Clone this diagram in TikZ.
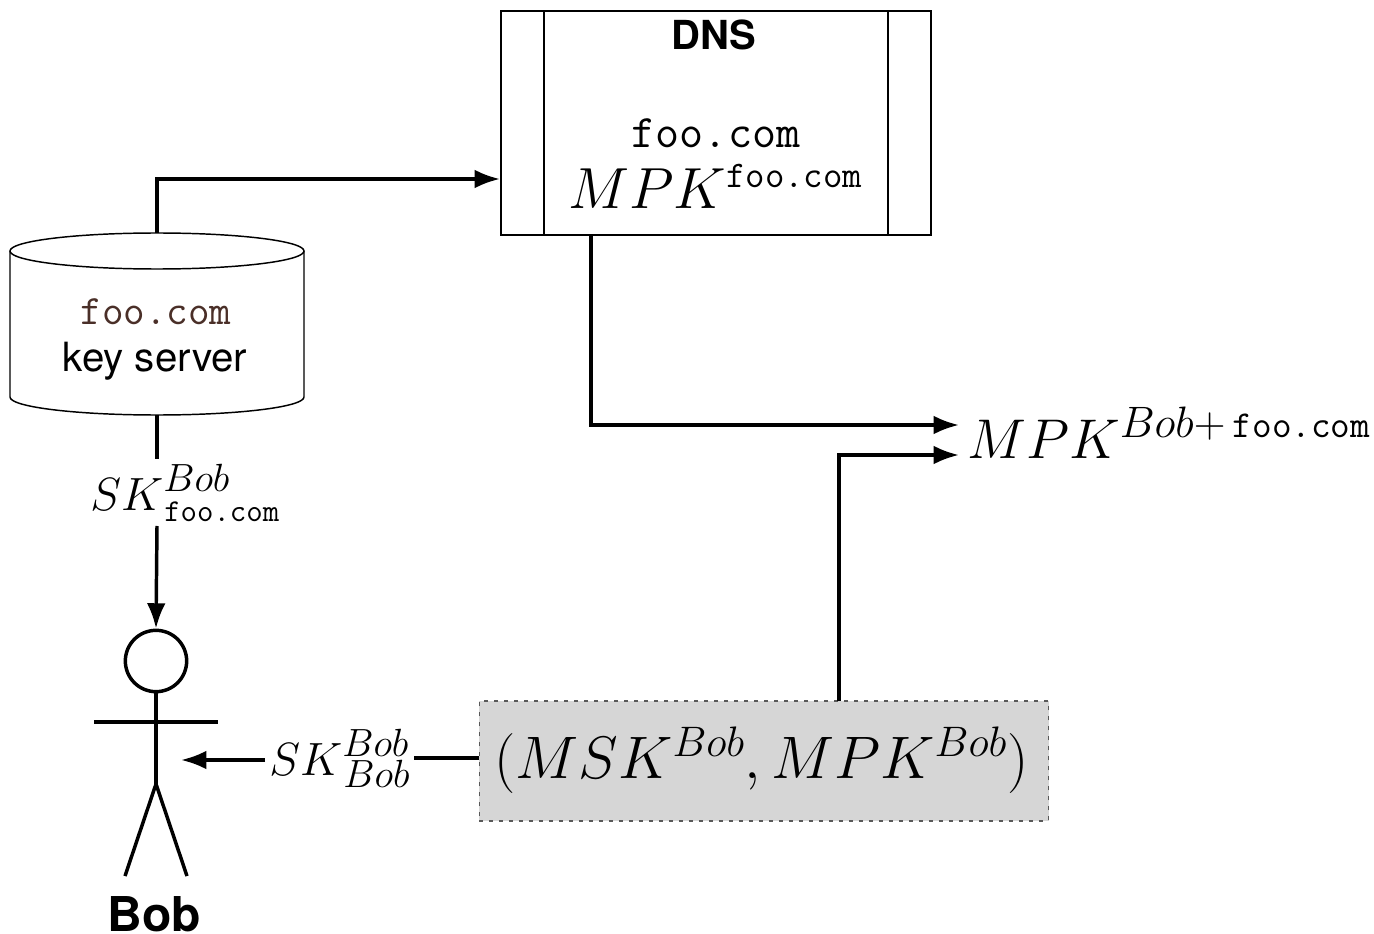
\documentclass[tikz,border=0pt]{standalone}
\usepackage{fix-cm}
\usepackage{fontspec}
\setmainfont{TeX Gyre Heros}
\setmonofont{Latin Modern Mono}
\DeclareMathSizes{45}{45}{32}{23}
\DeclareMathSizes{43.5}{43.5}{33}{23}
\DeclareMathSizes{42}{42}{33}{23}
\DeclareMathSizes{35}{35}{29.5}{20}
\usetikzlibrary{arrows.meta,positioning}
\newcommand{\bigmath}{\fontsize{45}{50}\selectfont}
\newcommand{\keymath}{\fontsize{43.5}{50}\selectfont}
\newcommand{\resmath}{\fontsize{42}{50}\selectfont}
\newcommand{\midmath}{\fontsize{35}{42}\selectfont}
\newcommand{\foodom}[1]{\mbox{\fontsize{#1}{#1}\selectfont\ttfamily foo.com}}
\newcommand{\upbob}{\raisebox{1.5pt}{$\scriptstyle Bob$}}
\newcommand{\downbob}{\mkern2mu\raisebox{-1pt}{$\scriptstyle Bob$}}
\tikzset{
  conn/.style={line width=2.6pt,-{Latex[length=19pt,width=14pt]}},
  plain/.style={line width=2.6pt},
  thin box/.style={line width=1.1pt},
  mathlbl/.style={anchor=base west,inner sep=3pt},
}
\begin{document}
\begin{tikzpicture}[x=0.75pt,y=-0.75pt]
  \useasboundingbox (0,0) rectangle (1374,934);
  % dns box
  \node[draw,thin box,minimum width=322.5pt,minimum height=168pt,inner sep=0pt] (dns) at (716,123) {};
  \draw[thin box] (544,11) -- (544,235) (888,11) -- (888,235);
  \coordinate (dnsin) at (500,179);
  \coordinate (dnsout) at (591,235);
  \node (dnstitle) at (714,35) {\fontsize{30}{32}\selectfont\bfseries DNS};
  \node (dnsdom) at (716,133) {\fontsize{35}{38}\selectfont\ttfamily foo.com};
  \node[mathlbl] (dnskey) at (564,209) {\keymath $MPK^{\foodom{28.3}}$};
  % key server
  \node[minimum width=220.5pt,minimum height=136.5pt,inner sep=0pt] (server) at (157,324) {};
  \draw[thin box] (157,251) ellipse [x radius=147,y radius=18];
  \draw[thin box] (10,251) -- (10,397) arc [start angle=180,end angle=0,x radius=147,y radius=18] -- (304,251);
  \node (srvdom) at (156,312) {\fontsize{31.4}{34}\selectfont\ttfamily\color[HTML]{4A2F28} foo.com};
  \node (srvname) at (155,361) {\fontsize{30.2}{32}\selectfont key server};
  % result
  \node[mathlbl] (res) at (963,458) {\resmath $MPK^{Bob+\mkern3mu\foodom{28.6}}$};
  \coordinate (resa) at (959,425);
  \coordinate (resb) at (959,455);
  % master keys
  \node[draw=black!65,line width=0.9pt,dash pattern=on 3pt off 4.5pt,fill=black!16,minimum width=427pt,minimum height=90pt,inner sep=0pt] (master) at (764,761) {};
  \coordinate (masterup) at (839,701);
  \coordinate (masterleft) at (479,758);
  \node[mathlbl,inner sep=0pt] (mkeys) at (494,778) {\bigmath $(MSK^{Bob},MPK^{Bob})$};
  % bob
  \node[draw,circle,line width=2.6pt,minimum size=46pt,inner sep=0pt] (head) at (156,661) {};
  \coordinate (armL) at (94,722);
  \coordinate (armR) at (218,722);
  \coordinate (hip) at (156,784);
  \coordinate (footL) at (125,876);
  \coordinate (footR) at (187,876);
  \draw[plain] (head.south) -- (hip);
  \draw[plain] (armL) -- (armR);
  \draw[plain] (footL) -- (hip) -- (footR);
  \node[anchor=base,inner sep=0pt] (bob) at (154,931) {\fontsize{36}{38}\selectfont\bfseries Bob};
  % labels on the lines
  \node[mathlbl] (skdom) at (86,510) {\midmath $SK^{\upbob}_{\mkern2mu\foodom{23.9}}$};
  \node[mathlbl] (skbob) at (265,775) {\midmath $SK^{\upbob}_{\downbob}$};
  \coordinate (bobin) at (181,760);
  % connectors
  \draw[conn] (server.north) |- (dnsin);
  \draw[conn] (dnsout) |- (resa);
  \draw[conn] (masterup) |- (resb);
  \draw[plain] (server.south) -- (server.south |- skdom.north);
  \draw[conn] (server.south |- skdom.south) -- (head.north);
  \draw[plain] (masterleft) -- (masterleft -| skbob.east);
  \draw[conn] (bobin -| skbob.west) -- (bobin);
\end{tikzpicture}
\end{document}
